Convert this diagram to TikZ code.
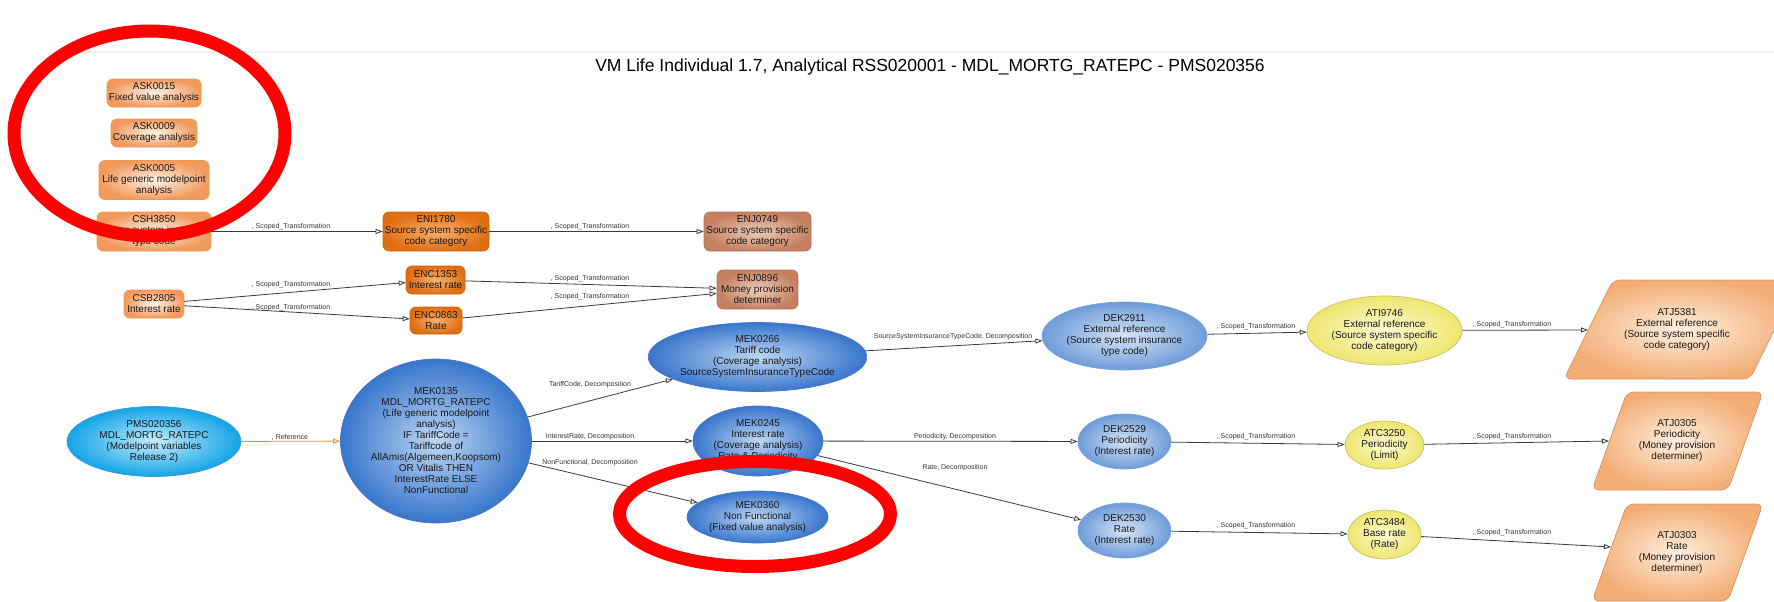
\documentclass[tikz,border=0pt]{standalone}
\usepackage{fontspec}
\setmainfont{Liberation Sans}
\usetikzlibrary{arrows.meta,shapes.geometric}

\definecolor{edgegray}{HTML}{3A3A3A}
\definecolor{framegray}{HTML}{EEEEEE}

\tikzset{
  txt/.style={font=\fontsize{10}{11}\selectfont, align=center, text=black!90, inner sep=0pt},
  lbl/.style={font=\fontsize{7}{8}\selectfont, text=black!80, inner sep=0pt},
  boxbase/.style={txt, rectangle, rounded corners=6pt, draw, line width=0.7pt, shade, shading=radial},
  lightbox/.style={boxbase, draw=orange!55!brown!80, inner color=orange!10, outer color={rgb,255:red,242;green,154;blue,94}},
  darkbox/.style={boxbase, draw={rgb,255:red,200;green,98;blue,20}, inner color={rgb,255:red,246;green,176;blue,112}, outer color={rgb,255:red,224;green,110;blue,18}},
  brownbox/.style={boxbase, draw={rgb,255:red,176;green,116;blue,90}, inner color={rgb,255:red,238;green,204;blue,186}, outer color={rgb,255:red,196;green,128;blue,96}},
  ellbase/.style={txt, ellipse, draw, line width=0.7pt, shade, shading=radial},
  cyanell/.style={ellbase, draw={rgb,255:red,60;green,156;blue,216}, inner color={rgb,255:red,196;green,236;blue,255}, outer color={rgb,255:red,18;green,164;blue,230}},
  blueell/.style={ellbase, draw={rgb,255:red,72;green,120;blue,190}, inner color={rgb,255:red,190;green,214;blue,244}, outer color={rgb,255:red,56;green,118;blue,204}},
  paleell/.style={ellbase, draw={rgb,255:red,122;green,162;blue,212}, inner color={rgb,255:red,214;green,228;blue,247}, outer color={rgb,255:red,110;green,156;blue,216}},
  yellell/.style={ellbase, draw={rgb,255:red,200;green,192;blue,100}, inner color={rgb,255:red,252;green,250;blue,210}, outer color={rgb,255:red,238;green,230;blue,110}},
  pgram/.style={draw={rgb,255:red,214;green,146;blue,96}, line width=0.7pt, rounded corners=7pt, shade, shading=radial, inner color={rgb,255:red,254;green,238;blue,222}, outer color={rgb,255:red,243;green,174;blue,118}},
  conn/.style={draw=edgegray, line width=0.8pt, -{Triangle[open, length=7pt, width=5pt]}},
  refconn/.style={draw={rgb,255:red,240;green,140;blue,60}, line width=0.9pt, -{Triangle[open, length=7pt, width=5pt]}},
  ring/.style={draw=red, line width=13pt}
}

\begin{document}
\begin{tikzpicture}[x=1pt, y=-1pt]
\useasboundingbox (0,0) rectangle (1774,602);

% header
\draw[framegray, line width=2pt] (65,52) -- (1774,52);
\node[font=\fontsize{17.5}{20}\selectfont, inner sep=0pt] (title) at (930,67)
  {VM Life Individual 1.7, Analytical RSS020001 - MDL\_MORTG\_RATEPC - PMS020356};

% analysis boxes
\node[lightbox, minimum width=94pt, minimum height=28pt] (ask15) at (154,93) {ASK0015\\Fixed value analysis};
\node[lightbox, minimum width=86pt, minimum height=28pt] (ask09) at (154,133) {ASK0009\\Coverage analysis};
\node[lightbox, minimum width=110pt, minimum height=39pt] (ask05) at (154,180) {ASK0005\\Life generic modelpoint\\analysis};

% source system boxes
\node[lightbox, minimum width=114pt, minimum height=39pt] (csh) at (154,231.5) {CSH3850\\Source system insurance\\type code};
\node[lightbox, minimum width=60pt, minimum height=28pt] (csb) at (154,304) {CSB2805\\Interest rate};
\node[darkbox, minimum width=106pt, minimum height=39pt] (eni) at (436,231.5) {ENI1780\\Source system specific\\code category};
\node[brownbox, minimum width=107pt, minimum height=39pt] (enj749) at (757.5,231.5) {ENJ0749\\Source system specific\\code category};
\node[darkbox, minimum width=59pt, minimum height=28pt] (enc1353) at (435.5,280) {ENC1353\\Interest rate};
\node[darkbox, minimum width=52pt, minimum height=27pt] (enc863) at (436,320.5) {ENC0863\\Rate};
\node[brownbox, minimum width=81pt, minimum height=39pt] (enj896) at (757.5,289.5) {ENJ0896\\Money provision\\determiner};

% model elements
\node[cyanell, minimum width=174pt, minimum height=70pt] (pms) at (154,441.5) {PMS020356\\MDL\_MORTG\_RATEPC\\(Modelpoint variables\\Release 2)};
\node[blueell, minimum width=191pt, minimum height=164pt] (mek135) at (436,441)
  {MEK0135\\MDL\_MORTG\_RATEPC\\(Life generic modelpoint\\analysis)\\IF TariffCode =\\Tariffcode of\\AllAmis(Algemeen,Koopsom)\\OR Vitalis THEN\\InterestRate ELSE\\NonFunctional};
\node[blueell, minimum width=218pt, minimum height=69pt] (mek266) at (757.5,357) {MEK0266\\Tariff code\\(Coverage analysis)\\SourceSystemInsuranceTypeCode};
\node[blueell, minimum width=130pt, minimum height=70pt] (mek245) at (758,441) {MEK0245\\Interest rate\\(Coverage analysis)\\Rate \& Periodicity};
\node[blueell, minimum width=141pt, minimum height=52pt] (mek360) at (757.5,517) {MEK0360\\Non Functional\\(Fixed value analysis)};

% data elements
\node[paleell, minimum width=165pt, minimum height=68pt] (dek2911) at (1124.5,336) {DEK2911\\External reference\\(Source system insurance\\type code)};
\node[paleell, minimum width=93pt, minimum height=55pt] (dek2529) at (1124.5,441.5) {DEK2529\\Periodicity\\(Interest rate)};
\node[paleell, minimum width=93pt, minimum height=55pt] (dek2530) at (1124.5,530.5) {DEK2530\\Rate\\(Interest rate)};

% attributes
\node[yellell, minimum width=155pt, minimum height=69pt] (ati) at (1384.5,330.5) {ATI9746\\External reference\\(Source system specific\\code category)};
\node[yellell, minimum width=79pt, minimum height=48pt] (atc3250) at (1384.5,445) {ATC3250\\Periodicity\\(Limit)};
\node[yellell, minimum width=73pt, minimum height=49pt] (atc3484) at (1384.5,534.5) {ATC3484\\Base rate\\(Rate)};

% target parallelograms
\path[pgram] (1564,379) -- (1613,280) -- (1799,280) -- (1750,379) -- cycle;
\path[pgram] (1592,490) -- (1627,392) -- (1763,392) -- (1728,490) -- cycle;
\path[pgram] (1592,601) -- (1627,504) -- (1763,504) -- (1728,601) -- cycle;
\node[txt] (atj5381) at (1677,329.5) {ATJ5381\\External reference\\(Source system specific\\code category)};
\node[txt] (atj0305) at (1677,441) {ATJ0305\\Periodicity\\(Money provision\\determiner)};
\node[txt] (atj0303) at (1677,553) {ATJ0303\\Rate\\(Money provision\\determiner)};
\coordinate (in5381) at (1588,330);
\coordinate (in0305) at (1609,441);
\coordinate (in0303) at (1611,547);

% connectors
\draw[conn] (csh) -- (eni);
\draw[conn] (eni) -- (enj749);
\draw[conn] (csb) -- (enc1353);
\draw[conn] (csb) -- (enc863);
\draw[conn] (enc1353) -- (enj896);
\draw[conn] (enc863) -- (enj896);
\draw[refconn] (pms) -- (mek135);
\draw[conn] (mek135) -- (mek266);
\draw[conn] (mek135) -- (mek245);
\draw[conn] (mek135) -- (mek360);
\draw[conn] (mek266) -- (dek2911);
\draw[conn] (mek245) -- (dek2529);
\draw[conn] (mek245) -- (dek2530);
\draw[conn] (dek2911) -- (ati);
\draw[conn] (dek2529) -- (atc3250);
\draw[conn] (dek2530) -- (atc3484);
\draw[conn] (ati) -- (in5381);
\draw[conn] (atc3250) -- (in0305);
\draw[conn] (atc3484) -- (in0303);

% connector labels
\node[lbl] (l1) at (291,227) {, Scoped\_Transformation};
\node[lbl] (l2) at (590,227) {, Scoped\_Transformation};
\node[lbl] (l3) at (291,285) {, Scoped\_Transformation};
\node[lbl] (l4) at (291,308) {, Scoped\_Transformation};
\node[lbl] (l5) at (590,279) {, Scoped\_Transformation};
\node[lbl] (l6) at (590,297) {, Scoped\_Transformation};
\node[lbl] (l7) at (290,437) {, Reference};
\node[lbl] (l8) at (590,385) {TariffCode, Decomposition};
\node[lbl] (l9) at (590,437) {InterestRate, Decomposition};
\node[lbl] (l10) at (590,463) {NonFunctional, Decomposition};
\node[lbl] (l11) at (953,337) {SourceSystemInsuranceTypeCode, Decomposition};
\node[lbl] (l12) at (955,437) {Periodicity, Decomposition};
\node[lbl] (l13) at (955,468) {Rate, Decomposition};
\node[lbl] (l14) at (1256,327) {, Scoped\_Transformation};
\node[lbl] (l15) at (1256,437) {, Scoped\_Transformation};
\node[lbl] (l16) at (1256,526) {, Scoped\_Transformation};
\node[lbl] (l17) at (1512,325) {, Scoped\_Transformation};
\node[lbl] (l18) at (1512,437) {, Scoped\_Transformation};
\node[lbl] (l19) at (1512,533) {, Scoped\_Transformation};

% red highlight rings
\draw[ring] (149.5,133.5) ellipse [x radius=135.5pt, y radius=102.5pt];
\draw[ring] (755,514) ellipse [x radius=135.5pt, y radius=52.5pt];
\end{tikzpicture}
\end{document}
